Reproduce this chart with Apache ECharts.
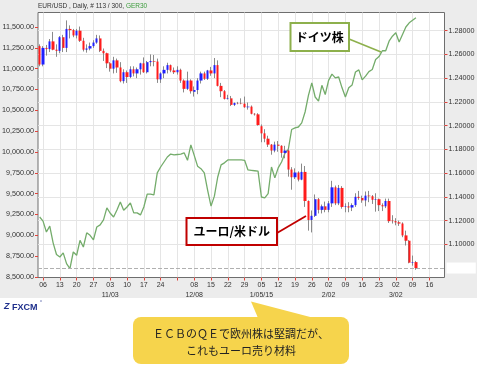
<!DOCTYPE html>
<html><head><meta charset="utf-8">
<script src="https://cdn.jsdelivr.net/npm/echarts@6/dist/echarts.min.js"></script>
<style>
html,body{margin:0;padding:0;background:#fff}
#c{width:477px;height:368px;background:linear-gradient(to bottom,#ececec 0,#ececec 298px,#ffffff 298px)}
</style>
</head><body><div id="c"></div>
<script>
const dates = [
'2014-10-03',
'2014-10-06','2014-10-07','2014-10-08','2014-10-09','2014-10-10',
'2014-10-13','2014-10-14','2014-10-15','2014-10-16','2014-10-17',
'2014-10-20','2014-10-21','2014-10-22','2014-10-23','2014-10-24',
'2014-10-27','2014-10-28','2014-10-29','2014-10-30','2014-10-31',
'2014-11-03','2014-11-04','2014-11-05','2014-11-06','2014-11-07',
'2014-11-10','2014-11-11','2014-11-12','2014-11-13','2014-11-14',
'2014-11-17','2014-11-18','2014-11-19','2014-11-20','2014-11-21',
'2014-11-24','2014-11-25','2014-11-26','2014-11-27','2014-11-28',
'2014-12-01','2014-12-02','2014-12-03','2014-12-04','2014-12-05',
'2014-12-08','2014-12-09','2014-12-10','2014-12-11','2014-12-12',
'2014-12-15','2014-12-16','2014-12-17','2014-12-18','2014-12-19',
'2014-12-22','2014-12-23','2014-12-24','2014-12-25','2014-12-26',
'2014-12-29','2014-12-30','2014-12-31','2015-01-01','2015-01-02',
'2015-01-05','2015-01-06','2015-01-07','2015-01-08','2015-01-09',
'2015-01-12','2015-01-13','2015-01-14','2015-01-15','2015-01-16',
'2015-01-19','2015-01-20','2015-01-21','2015-01-22','2015-01-23',
'2015-01-26','2015-01-27','2015-01-28','2015-01-29','2015-01-30',
'2015-02-02','2015-02-03','2015-02-04','2015-02-05','2015-02-06',
'2015-02-09','2015-02-10','2015-02-11','2015-02-12','2015-02-13',
'2015-02-16','2015-02-17','2015-02-18','2015-02-19','2015-02-20',
'2015-02-23','2015-02-24','2015-02-25','2015-02-26','2015-02-27',
'2015-03-02','2015-03-03','2015-03-04','2015-03-05','2015-03-06',
'2015-03-09','2015-03-10','2015-03-11','2015-03-12','2015-03-13',
'2015-03-16','2015-03-17','2015-03-18','2015-03-19','2015-03-20'
];

// EUR/USD daily candles (right axis)
const eurOpen = [1.2670,1.2515,1.2655,1.2645,1.2710,1.2640,1.2630,1.2745,1.2655,1.2815,
1.2805,1.2760,1.2800,1.2715,1.2640,1.2650,1.2670,1.2700,1.2735,1.2630,
1.2610,1.2525,1.2480,1.2550,1.2490,1.2375,1.2450,1.2410,1.2475,1.2440,
1.2475,1.2525,1.2450,1.2535,1.2545,1.2540,1.2390,1.2440,1.2470,1.2510,
1.2465,1.2450,1.2470,1.2380,1.2310,1.2380,1.2285,1.2300,1.2380,1.2440,
1.2395,1.2465,1.2440,1.2510,1.2335,1.2290,1.2225,1.2230,1.2175,1.2190,
1.2188,1.2185,1.2155,1.2160,1.2100,1.2095,1.1995,1.1935,1.1890,1.1840,
1.1790,1.1840,1.1830,1.1770,1.1790,1.1630,1.1565,1.1605,1.1545,1.1610,
1.1365,1.1205,1.1240,1.1380,1.1290,1.1320,1.1290,1.1345,1.1480,1.1345,
1.1475,1.1315,1.1320,1.1310,1.1330,1.1400,1.1390,1.1370,1.1410,1.1405,
1.1375,1.1380,1.1330,1.1320,1.1365,1.1200,1.1195,1.1185,1.1175,1.1075,
1.1030,1.0845,1.0850];
const eurHigh = [1.2685,1.2670,1.2680,1.2730,1.2790,1.2685,1.2755,1.2765,1.2887,1.2845,
1.2815,1.2815,1.2835,1.2740,1.2685,1.2700,1.2720,1.2765,1.2760,1.2650,
1.2615,1.2535,1.2580,1.2565,1.2535,1.2475,1.2465,1.2500,1.2500,1.2490,
1.2530,1.2575,1.2545,1.2600,1.2595,1.2565,1.2450,1.2500,1.2530,1.2515,
1.2490,1.2500,1.2480,1.2390,1.2455,1.2390,1.2330,1.2400,1.2455,1.2455,
1.2470,1.2495,1.2570,1.2550,1.2360,1.2300,1.2260,1.2250,1.2195,1.2200,
1.2230,1.2245,1.2195,1.2170,1.2105,1.2105,1.2010,1.1970,1.1915,1.1845,
1.1865,1.1870,1.1835,1.1830,1.1810,1.1650,1.1640,1.1615,1.1680,1.1660,
1.1370,1.1285,1.1420,1.1390,1.1335,1.1360,1.1365,1.1535,1.1495,1.1500,
1.1490,1.1345,1.1355,1.1345,1.1430,1.1450,1.1410,1.1445,1.1450,1.1415,
1.1430,1.1385,1.1345,1.1385,1.1385,1.1245,1.1220,1.1200,1.1185,1.1115,
1.1035,1.0905,1.0860];
const eurLow = [1.2500,1.2500,1.2590,1.2620,1.2635,1.2580,1.2610,1.2620,1.2620,1.2735,
1.2745,1.2735,1.2705,1.2625,1.2615,1.2635,1.2655,1.2690,1.2620,1.2545,
1.2485,1.2455,1.2440,1.2445,1.2365,1.2355,1.2360,1.2400,1.2415,1.2400,
1.2430,1.2445,1.2440,1.2500,1.2500,1.2360,1.2360,1.2400,1.2440,1.2450,
1.2435,1.2430,1.2360,1.2280,1.2300,1.2270,1.2245,1.2265,1.2355,1.2385,
1.2385,1.2420,1.2400,1.2330,1.2240,1.2220,1.2220,1.2165,1.2165,1.2180,
1.2180,1.2150,1.2135,1.2095,1.2085,1.2000,1.1860,1.1860,1.1820,1.1755,
1.1775,1.1780,1.1730,1.1725,1.1570,1.1460,1.1550,1.1530,1.1540,1.1315,
1.1115,1.1100,1.1230,1.1260,1.1260,1.1270,1.1270,1.1315,1.1330,1.1330,
1.1300,1.1270,1.1270,1.1280,1.1315,1.1375,1.1350,1.1320,1.1355,1.1340,
1.1275,1.1280,1.1280,1.1305,1.1180,1.1175,1.1160,1.1155,1.1060,1.0990,
1.0840,1.0820,1.0785];
const eurClose = [1.2515,1.2655,1.2645,1.2710,1.2640,1.2630,1.2745,1.2655,1.2815,1.2805,
1.2760,1.2800,1.2715,1.2640,1.2650,1.2670,1.2700,1.2735,1.2630,1.2610,
1.2525,1.2480,1.2550,1.2490,1.2375,1.2450,1.2410,1.2475,1.2440,1.2475,
1.2525,1.2450,1.2535,1.2545,1.2540,1.2390,1.2440,1.2470,1.2510,1.2465,
1.2450,1.2470,1.2380,1.2310,1.2380,1.2290,1.2300,1.2380,1.2440,1.2395,
1.2465,1.2440,1.2510,1.2335,1.2290,1.2225,1.2230,1.2175,1.2190,1.2188,
1.2185,1.2155,1.2160,1.2100,1.2095,1.2005,1.1935,1.1890,1.1840,1.1790,
1.1840,1.1830,1.1770,1.1790,1.1630,1.1565,1.1605,1.1545,1.1610,1.1365,
1.1205,1.1240,1.1380,1.1290,1.1320,1.1290,1.1345,1.1480,1.1345,1.1475,
1.1315,1.1320,1.1310,1.1330,1.1400,1.1390,1.1370,1.1410,1.1405,1.1375,
1.1380,1.1330,1.1320,1.1365,1.1195,1.1195,1.1185,1.1175,1.1075,1.1030,
1.0845,1.0850,1.0800];

// GER30 daily close (left axis)
const ger30 = [9220,9170,9040,9110,8910,8770,8740,8790,8660,8600,
8800,8760,8940,8860,9030,9000,8945,9100,9125,9185,
9330,9265,9220,9305,9400,9300,9340,9390,9270,9270,
9245,9340,9495,9495,9485,9750,9820,9880,9940,9975,
9965,9970,9975,9990,9900,10085,9960,9830,9800,9750,
9540,9350,9470,9700,9845,9870,9905,9905,9905,9905,
9905,9900,9785,9780,9775,9770,9460,9450,9500,9820,
9690,9810,9880,9985,10030,10270,10290,10300,10350,10480,
10680,10830,10660,10610,10800,10690,10860,10935,10890,10900,
10770,10660,10770,10805,10960,10985,10865,10910,10965,10990,
11110,11145,11215,11215,11330,11390,11430,11320,11410,11500,
11550,11580,11610];

const leftTicks = [8500,8750,9000,9250,9500,9750,10000,10250,10500,10750,11000,11250,11500];
const rightTicks = [1.10,1.12,1.14,1.16,1.18,1.20,1.22,1.24,1.26,1.28];

const xTickDates = ['2014-10-06','2014-10-13','2014-10-20','2014-10-27','2014-11-03','2014-11-10','2014-11-17','2014-11-24',
'2014-12-01','2014-12-08','2014-12-15','2014-12-22','2014-12-29','2015-01-05','2015-01-12','2015-01-19','2015-01-26',
'2015-02-02','2015-02-09','2015-02-16','2015-02-23','2015-03-02','2015-03-09','2015-03-16'];
const xTickLabels = ['06','13','20','27','03','10','17','24','','08','15','22','29','05','12','19','26','02','09','16','23','02','09','16'];
const xMonthLabels = ['','','','','11/03','','','','','12/08','','','','1/05/15','','','','2/02','','','','3/02','',''];

const wickData = eurOpen.map((o, i) => [o, eurClose[i], eurLow[i], eurHigh[i]]);
const bodyData = eurOpen.map((o, i) => [o, eurClose[i], Math.min(o, eurClose[i]), Math.max(o, eurClose[i])]);
const isTick = (idx, val) => xTickDates.indexOf(val) >= 0;
const fmtX = (val) => {
  const i = xTickDates.indexOf(val);
  if (i < 0) return '';
  return xMonthLabels[i] ? xTickLabels[i] + '\n' + xMonthLabels[i] : xTickLabels[i];
};
const fmtLeft = (v) => {
  const s = String(Math.round(v));
  return s.replace(/\B(?=(\d{3})+(?!\d))/g, ',') + '.00';
};

const FONT = 'Liberation Sans, Arial, sans-serif';
const TICKRED = '#e0433b';
const GRIDC = '#e5e5e5';

const chart = echarts.init(document.getElementById('c'), null, {renderer: 'canvas'});
chart.setOption({
  animation: false,
  backgroundColor: 'transparent',
  grid: {left: 38, top: 12.5, width: 406.5, height: 265, show: true, backgroundColor: '#ffffff',
         borderColor: '#6e6e6e', borderWidth: 1, containLabel: false, outerBoundsMode: 'none'},
  xAxis: [{
    type: 'category', data: dates, boundaryGap: true,
    axisLine: {show: false},
    axisTick: {show: true, alignWithLabel: true, interval: isTick, length: 3, lineStyle: {color: TICKRED}},
    axisLabel: {interval: isTick, formatter: fmtX, fontSize: 7, color: '#333', margin: 2.5, lineHeight: 10, fontFamily: FONT},
    splitLine: {show: true, interval: isTick, alignWithLabel: true, lineStyle: {color: GRIDC, width: 1}}
  }],
  yAxis: [{
    type: 'value', position: 'left', min: 8494, max: 11674,
    axisLine: {show: false},
    axisTick: {show: true, length: 3, customValues: leftTicks, lineStyle: {color: TICKRED}},
    axisLabel: {customValues: leftTicks, formatter: fmtLeft, fontSize: 7.2, color: '#333', margin: 4, fontFamily: FONT},
    splitLine: {show: false}
  }, {
    type: 'value', position: 'right', min: 1.07202, max: 1.29534,
    axisLine: {show: false},
    axisTick: {show: true, length: 3, customValues: rightTicks, lineStyle: {color: TICKRED}},
    axisLabel: {customValues: rightTicks, formatter: (v) => v.toFixed(5), fontSize: 7.2, color: '#333', margin: 4, fontFamily: FONT},
    splitLine: {show: true, lineStyle: {color: GRIDC, width: 1}}
  }],
  series: [{
    name: 'GER30', type: 'line', xAxisIndex: 0, yAxisIndex: 0, data: ger30,
    symbol: 'none', z: 3,
    lineStyle: {color: '#74ac6b', width: 1.3}
  }, {
    name: 'EURUSD wick', type: 'candlestick', xAxisIndex: 0, yAxisIndex: 1, data: wickData,
    barWidth: 1, z: 4,
    itemStyle: {color: '#8a8a8a', color0: '#8a8a8a', borderColor: '#8a8a8a', borderColor0: '#8a8a8a', borderWidth: 1}
  }, {
    name: 'EUR/USD', type: 'candlestick', xAxisIndex: 0, yAxisIndex: 1, data: bodyData,
    barWidth: 2.8, z: 5,
    itemStyle: {color: '#1f1fff', color0: '#ff1c1c', borderColor: '#1f1fff', borderColor0: '#ff1c1c', borderWidth: 0},
    markLine: {
      silent: true, symbol: 'none', animation: false,
      lineStyle: {type: 'dashed', color: '#b0b0b0', width: 1},
      label: {show: true, position: 'end', distance: 2, formatter: (p) => Number(p.value).toFixed(5),
              color: '#ffffff', backgroundColor: '#ffffff', padding: [2, 2], fontSize: 7, fontFamily: FONT},
      data: [{yAxis: eurClose[eurClose.length - 1]}]
    }
  }],
  graphic: {elements: [
    {type: 'text', x: 38, y: 3, z: 50, style: {
      text: '{a|EUR/USD , Daily, # 113 / 300, }{g|GER30}',
      rich: {a: {fontSize: 6.5, fill: '#333', fontFamily: FONT}, g: {fontSize: 6.5, fill: '#3b9b3b', fontFamily: FONT}}
    }},
    // Germany stocks label
    {type: 'line', z: 60, shape: {x1: 349, y1: 39, x2: 381, y2: 52}, style: {stroke: '#8db04c', lineWidth: 1.6}},
    {type: 'rect', z: 61, shape: {x: 290.5, y: 23, width: 58.5, height: 28}, style: {fill: '#fff', stroke: '#8db04c', lineWidth: 2}},
    {type: 'text', z: 62, x: 319.75, y: 37, style: {text: 'ドイツ株', align: 'center', verticalAlign: 'middle',
      font: 'bold 12px "Noto Sans CJK JP", sans-serif', fill: '#000'}},
    // EUR/USD label
    {type: 'line', z: 60, shape: {x1: 277, y1: 233, x2: 306, y2: 216}, style: {stroke: '#c00000', lineWidth: 1.8}},
    {type: 'rect', z: 61, shape: {x: 186.5, y: 218, width: 90.5, height: 27}, style: {fill: '#fff', stroke: '#c00000', lineWidth: 2}},
    {type: 'text', z: 62, x: 231.75, y: 231.5, style: {text: 'ユーロ/米ドル', align: 'center', verticalAlign: 'middle',
      font: 'bold 12px "Noto Sans CJK JP", sans-serif', fill: '#000'}},
    // FXCM logo
    {type: 'text', z: 50, x: 4, y: 307, style: {text: 'Z', verticalAlign: 'middle', font: 'italic bold 9px ' + FONT, fill: '#1e2f8c'}},
    {type: 'text', z: 50, x: 12, y: 307.5, style: {text: 'FXCM', verticalAlign: 'middle', font: 'bold 9px ' + FONT, fill: '#1e2f8c'}},
    {type: 'text', z: 50, x: 40, y: 303, style: {text: '°', verticalAlign: 'middle', font: '5px ' + FONT, fill: '#1e2f8c'}},
    // callout
    {type: 'polygon', z: 70, shape: {points: [[251, 301.5], [258, 318], [314, 318]]}, style: {fill: '#f6d44c'}},
    {type: 'rect', z: 70, shape: {x: 133, y: 317, width: 216, height: 47, r: 8}, style: {fill: '#f6d44c'}},
    {type: 'text', z: 71, x: 241, y: 333.5, style: {text: 'ＥＣＢのＱＥで欧州株は堅調だが、', align: 'center', verticalAlign: 'middle',
      font: '11px "Noto Sans CJK JP", sans-serif', fill: '#222'}},
    {type: 'text', z: 71, x: 241, y: 351, style: {text: 'これもユーロ売り材料', align: 'center', verticalAlign: 'middle',
      font: '11px "Noto Sans CJK JP", sans-serif', fill: '#222'}}
  ]}
});
</script>
</body></html>
